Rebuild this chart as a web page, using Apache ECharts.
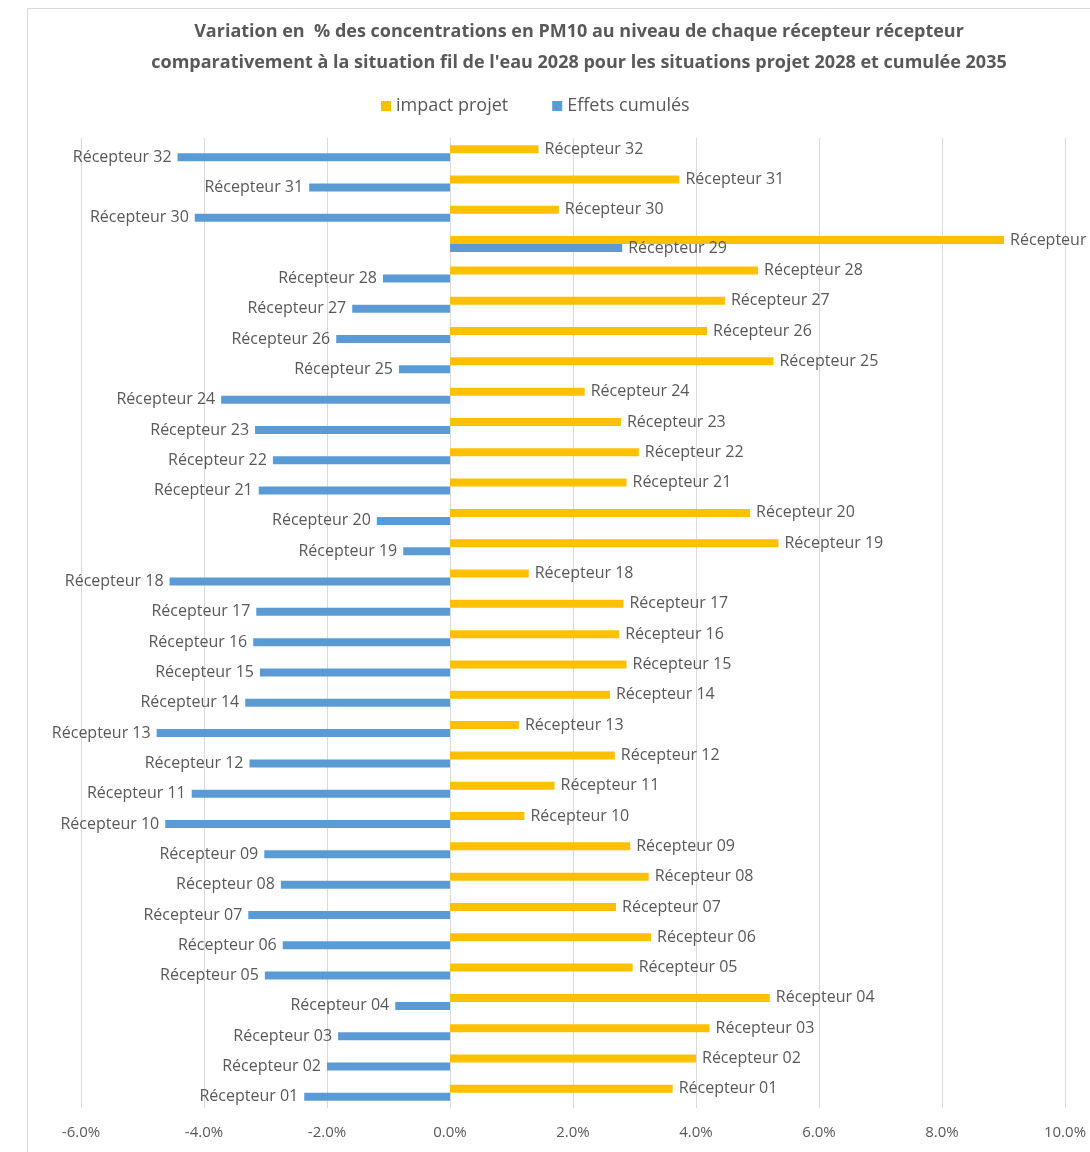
<!DOCTYPE html>
<html>
<head>
<meta charset="utf-8">
<script src="https://cdn.jsdelivr.net/npm/echarts@6/dist/echarts.min.js"></script>
<style>
  html, body { margin: 0; padding: 0; background: #ffffff; }
  #chart { width: 1090px; height: 1152px; }
</style>
</head>
<body>
<div id="chart"></div>
<script>
// Receptors, bottom (01) to top (32)
const receptors = [
  'Récepteur 01', 'Récepteur 02', 'Récepteur 03', 'Récepteur 04', 'Récepteur 05',
  'Récepteur 06', 'Récepteur 07', 'Récepteur 08', 'Récepteur 09', 'Récepteur 10',
  'Récepteur 11', 'Récepteur 12', 'Récepteur 13', 'Récepteur 14', 'Récepteur 15',
  'Récepteur 16', 'Récepteur 17', 'Récepteur 18', 'Récepteur 19', 'Récepteur 20',
  'Récepteur 21', 'Récepteur 22', 'Récepteur 23', 'Récepteur 24', 'Récepteur 25',
  'Récepteur 26', 'Récepteur 27', 'Récepteur 28', 'Récepteur 29', 'Récepteur 30',
  'Récepteur 31', 'Récepteur 32'
];

// Variation in % — projet 2028 vs fil de l'eau 2028
const impactProjet = [
  3.62, 4.00, 4.22, 5.20, 2.97, 3.27, 2.70, 3.23, 2.93, 1.21,
  1.70, 2.68, 1.12, 2.60, 2.87, 2.75, 2.82, 1.28, 5.34, 4.88,
  2.87, 3.07, 2.78, 2.19, 5.26, 4.18, 4.47, 5.01, 9.01, 1.77,
  3.73, 1.44
];

// Variation in % — cumulée 2035 vs fil de l'eau 2028
const effetsCumules = [
  -2.37, -2.00, -1.82, -0.89, -3.01, -2.72, -3.28, -2.75, -3.02, -4.63,
  -4.20, -3.26, -4.77, -3.33, -3.09, -3.20, -3.15, -4.56, -0.76, -1.19,
  -3.11, -2.88, -3.17, -3.72, -0.83, -1.85, -1.59, -1.09, 2.80, -4.15,
  -2.29, -4.43
];

const seriesNames = ['impact projet', 'Effets cumulés'];
const xMin = -6, xMax = 10, xStep = 2;

const TEXT = '#595959';
const GRID = '#D9D9D9';
const FONT = '"Open Sans", "Noto Sans", sans-serif';

const labelStyle = { color: TEXT, fontSize: 16, fontFamily: FONT, distance: 6 };

const chart = echarts.init(document.getElementById('chart'), null, { renderer: 'canvas' });

chart.setOption({
  backgroundColor: '#ffffff',
  animation: false,
  graphic: [{
    type: 'rect',
    shape: { x: 27.5, y: 8.5, width: 1100, height: 1200 },
    style: { fill: 'none', stroke: GRID, lineWidth: 1 },
    silent: true,
    z: -10
  }],
  title: {
    text: 'Variation en  % des concentrations en PM10 au niveau de chaque récepteur récepteur\ncomparativement à la situation fil de l\'eau 2028 pour les situations projet 2028 et cumulée 2035',
    left: 574,
    top: 11,
    textAlign: 'center',
    textStyle: {
      color: TEXT,
      fontSize: 18,
      fontWeight: 'bold',
      fontFamily: FONT,
      lineHeight: 31
    }
  },
  legend: {
    data: seriesNames,
    left: 376,
    top: 92,
    itemWidth: 10,
    itemHeight: 10,
    itemGap: 44,
    icon: 'rect',
    textStyle: { color: TEXT, fontSize: 18, fontFamily: FONT }
  },
  grid: {
    left: 81,
    right: 25,
    top: 138,
    bottom: 44,
    containLabel: false
  },
  xAxis: {
    type: 'value',
    min: xMin,
    max: xMax,
    interval: xStep,
    axisLine: { show: false },
    axisTick: { show: false },
    splitLine: { show: true, lineStyle: { color: GRID, width: 1 } },
    axisLabel: {
      color: TEXT,
      fontSize: 15,
      fontFamily: FONT,
      margin: 17,
      formatter: v => v.toFixed(1) + '%'
    }
  },
  yAxis: {
    type: 'category',
    data: receptors,
    axisLabel: { show: false },
    axisTick: { show: false },
    axisLine: { show: true, onZero: true, lineStyle: { color: GRID, width: 1 } },
    splitLine: { show: false }
  },
  series: [
    {
      name: seriesNames[0],
      type: 'bar',
      data: impactProjet,
      barWidth: 8,
      barGap: '0%',
      itemStyle: { color: '#FFC000' },
      label: Object.assign({ show: true, position: 'right', formatter: '{b}' }, labelStyle)
    },
    {
      name: seriesNames[1],
      type: 'bar',
      data: effetsCumules.map(v => ({
        value: v,
        label: { position: v < 0 ? 'left' : 'right' }
      })),
      barWidth: 8,
      barGap: '0%',
      itemStyle: { color: '#5B9BD5' },
      label: Object.assign({ show: true, formatter: '{b}' }, labelStyle)
    }
  ]
});
</script>
</body>
</html>
